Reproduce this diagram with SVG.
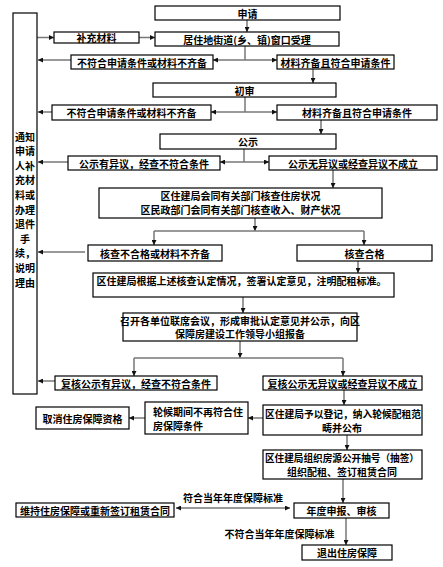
<svg xmlns="http://www.w3.org/2000/svg" width="443" height="567" viewBox="0 0 443 567">
<defs>
<marker id="ah" viewBox="0 0 10 10" refX="10" refY="5" markerWidth="6" markerHeight="5" markerUnits="userSpaceOnUse" orient="auto-start-reverse">
<path d="M0,0 L10,5 L0,10 z" fill="#111"/>
</marker>
<style>
rect{fill:#fff;stroke:#000;stroke-width:1.2}
text{font-family:"Noto Sans CJK SC","Noto Sans",sans-serif;font-size:10px;font-weight:bold;fill:#000;dominant-baseline:central}
.c{text-anchor:middle}
.l{text-anchor:start}
#connectors line,#connectors path{stroke:#777;stroke-width:1.5;fill:none}
.a{marker-end:url(#ah)}
.d{marker-start:url(#ah);marker-end:url(#ah)}
</style>
</defs>
<rect x="0" y="0" width="443" height="567" style="fill:#fff;stroke:none"/>

<g id="connectors">
<line class="a" x1="247" y1="20" x2="247" y2="32"/>
<line class="a" x1="37" y1="37.5" x2="54" y2="37.5"/>
<line class="a" x1="139" y1="37.5" x2="155" y2="37.5"/>
<line x1="245" y1="46" x2="245" y2="60"/>
<line class="a" x1="245" y1="60" x2="213" y2="60"/>
<line class="a" x1="245" y1="60" x2="277" y2="60"/>
<line class="a" x1="71" y1="60" x2="38" y2="60"/>
<line class="a" x1="313" y1="69" x2="313" y2="83"/>
<line x1="245" y1="97" x2="245" y2="112"/>
<line class="a" x1="245" y1="112" x2="211" y2="112"/>
<line class="a" x1="245" y1="112" x2="277" y2="112"/>
<line class="a" x1="52" y1="112" x2="38" y2="112"/>
<line class="a" x1="321" y1="120" x2="321" y2="134"/>
<line x1="244" y1="149" x2="244" y2="162"/>
<line class="a" x1="244" y1="162" x2="220" y2="162"/>
<line class="a" x1="244" y1="162" x2="269" y2="162"/>
<line class="a" x1="68" y1="162" x2="38" y2="162"/>
<line class="a" x1="333" y1="170" x2="333" y2="188"/>
<line class="a" x1="255" y1="218" x2="255" y2="231"/>
<line x1="154" y1="231" x2="364" y2="231"/>
<line class="a" x1="154" y1="231" x2="154" y2="245"/>
<line class="a" x1="364" y1="231" x2="364" y2="245"/>
<line class="a" x1="85" y1="252" x2="38" y2="252"/>
<line class="a" x1="358" y1="261" x2="358" y2="273"/>
<line class="a" x1="243" y1="297" x2="243" y2="313"/>
<line class="a" x1="240" y1="341" x2="240" y2="358"/>
<line x1="134" y1="358" x2="343" y2="358"/>
<line class="a" x1="134" y1="358" x2="134" y2="376"/>
<line class="a" x1="343" y1="358" x2="343" y2="376"/>
<line class="a" x1="55" y1="381" x2="38" y2="381"/>
<line class="a" x1="344" y1="390" x2="344" y2="405"/>
<line class="a" x1="263" y1="418" x2="248" y2="418"/>
<line class="a" x1="145" y1="418" x2="129" y2="418"/>
<line class="a" x1="347" y1="435" x2="347" y2="450"/>
<line class="a" x1="343" y1="479" x2="343" y2="503"/>
<line class="d" x1="176" y1="508" x2="290" y2="508"/>
<line class="a" x1="346" y1="518" x2="346" y2="545"/>
<text class="c" x="233" y="497">符合当年年度保障标准</text>
<text class="c" x="279.5" y="533">不符合当年年度保障标准</text>
</g>

<g id="n_left">
<rect x="13" y="13" width="24" height="381"/>
<text class="c" x="25" y="136">通知</text>
<text class="c" x="25" y="150.6">申请</text>
<text class="c" x="25" y="165.2">人补</text>
<text class="c" x="25" y="179.8">充材</text>
<text class="c" x="25" y="194.4">料或</text>
<text class="c" x="25" y="209">办理</text>
<text class="c" x="25" y="223.6">退件</text>
<text class="c" x="25" y="238.2">手</text>
<text class="c" x="25" y="252.8">续，</text>
<text class="c" x="25" y="267.4">说明</text>
<text class="c" x="25" y="282">理由</text>
</g>

<g id="n_apply"><rect x="155" y="6" width="185" height="14"/><text class="c" x="247.5" y="13">申请</text></g>
<g id="n_supp"><rect x="54" y="32" width="85" height="11"/><text class="c" x="96.5" y="37.5">补充材料</text></g>
<g id="n_accept"><rect x="155" y="32" width="184" height="14"/><text class="c" x="247" y="39">居住地街道(乡、镇)窗口受理</text></g>
<g id="n_fail1"><rect x="71" y="55" width="142" height="14"/><text class="c" x="142" y="62">不符合申请条件或材料不齐备</text></g>
<g id="n_ok1"><rect x="277" y="55" width="117" height="14"/><text class="c" x="335.5" y="62">材料齐备且符合申请条件</text></g>
<g id="n_first"><rect x="153" y="83" width="183" height="14"/><text class="c" x="244.5" y="90">初审</text></g>
<g id="n_fail2"><rect x="52" y="105" width="159" height="15"/><text class="c" x="131.5" y="112.5">不符合申请条件或材料不齐备</text></g>
<g id="n_ok2"><rect x="277" y="105" width="160" height="15"/><text class="c" x="357" y="112.5">材料齐备且符合申请条件</text></g>
<g id="n_pub"><rect x="160" y="134" width="176" height="15"/><text class="c" x="248" y="141.5">公示</text></g>
<g id="n_pubobj"><rect x="68" y="156" width="152" height="14"/><text class="c" x="144" y="163">公示有异议，经查不符合条件</text></g>
<g id="n_pubok"><rect x="269" y="156" width="168" height="14"/><text class="c" x="353" y="163">公示无异议或经查异议不成立</text></g>
<g id="n_check"><rect x="99" y="188" width="283" height="30"/>
<text class="c" x="240.5" y="195.5">区住建局会同有关部门核查住房状况</text>
<text class="c" x="240.5" y="209.5">区民政部门会同有关部门核查收入、财产状况</text></g>
<g id="n_checkfail"><rect x="88" y="245" width="134" height="16"/><text class="c" x="155" y="253">核查不合格或材料不齐备</text></g>
<g id="n_checkok"><rect x="297" y="245" width="135" height="16"/><text class="c" x="364.5" y="253">核查合格</text></g>
<g id="n_decide"><rect x="93" y="273" width="301" height="24"/><text class="c" x="241.5" y="280.5">区住建局根据上述核查认定情况，签署认定意见，注明配租标准。</text></g>
<g id="n_meeting"><rect x="123" y="313" width="234" height="28"/>
<text class="c" x="240" y="320">召开各单位联席会议，形成审批认定意见并公示，向区</text>
<text class="c" x="240" y="333.5">保障房建设工作领导小组报备</text></g>
<g id="n_recheckobj"><rect x="55" y="376" width="162" height="14"/><text class="c" x="136" y="383">复核公示有异议，经查不符合条件</text></g>
<g id="n_recheckok"><rect x="263" y="376" width="159" height="14"/><text class="c" x="342.5" y="383">复核公示无异议或经查异议不成立</text></g>
<g id="n_cancel"><rect x="36" y="407" width="93" height="22"/><text class="c" x="82.5" y="418">取消住房保障资格</text></g>
<g id="n_waitfail"><rect x="145" y="402" width="103" height="32"/>
<text class="l" x="153" y="411">轮候期间不再符合住</text>
<text class="l" x="153" y="425">房保障条件</text></g>
<g id="n_register"><rect x="263" y="405" width="159" height="30"/>
<text class="l" x="265" y="413" textLength="156" lengthAdjust="spacingAndGlyphs">区住建局予以登记，纳入轮候配租范</text>
<text class="c" x="342" y="427.5">畴并公布</text></g>
<g id="n_org"><rect x="263" y="450" width="159" height="29"/>
<text class="l" x="265" y="457.5" textLength="154" lengthAdjust="spacingAndGlyphs">区住建局组织房源公开抽号（抽签）</text>
<text class="c" x="342" y="471.5">组织配租、签订租赁合同</text></g>
<g id="n_annual"><rect x="294" y="503" width="95" height="15"/><text class="c" x="341.5" y="510.5">年度申报、审核</text></g>
<g id="n_keep"><rect x="16" y="503" width="158" height="14"/><text class="c" x="95" y="510">维持住房保障或重新签订租赁合同</text></g>
<g id="n_exit"><rect x="302" y="545" width="90" height="15"/><text class="c" x="347" y="552.5">退出住房保障</text></g>
</svg>
